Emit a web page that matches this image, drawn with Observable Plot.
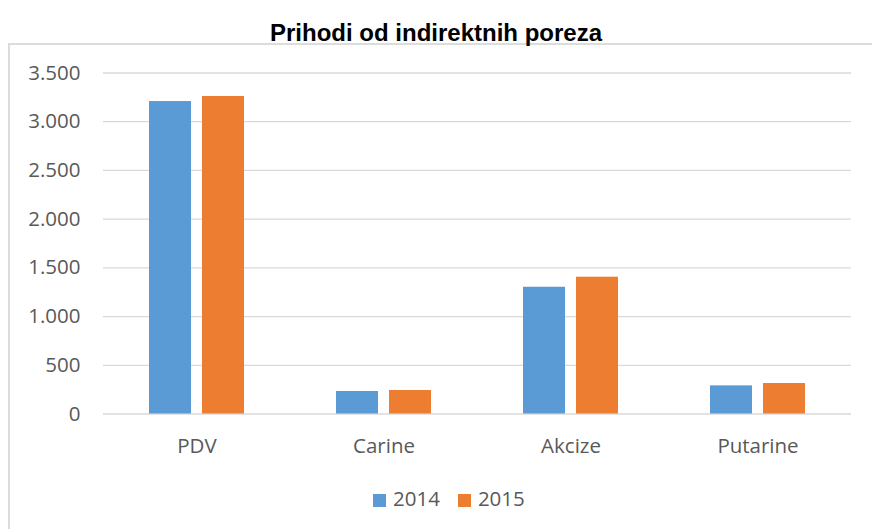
<!DOCTYPE html>
<html>
<head>
<meta charset="utf-8">
<script src="https://cdn.jsdelivr.net/npm/d3@7"></script>
<script src="https://cdn.jsdelivr.net/npm/@observablehq/plot@0.6"></script>
<style>
  html, body { margin: 0; padding: 0; background: #fff; }
  #wrap { position: relative; width: 872px; height: 529px; overflow: hidden; }
  #frame { position: absolute; left: 8px; top: 43px; width: 900px; height: 520px; border: 2px solid #dcdcdc; box-sizing: border-box; }
  #title { position: absolute; left: 0; top: 21px; width: 872px; text-align: center; font-family: "Liberation Sans", Arial, sans-serif; font-weight: bold; font-size: 24px; line-height: 24px; color: #000; }
  .layer { position: absolute; left: 0; top: 0; }
  #legend { position: absolute; left: 373px; top: 488px; display: flex; align-items: center; font-family: "Open Sans", sans-serif; font-size: 20.5px; line-height: 20px; color: #595959; }
  .item { display: flex; align-items: center; margin-right: 18px; }
  .sw { width: 13px; height: 13px; margin-right: 7px; margin-top: 4px; }
</style>
</head>
<body>
<div id="wrap">
  <div id="frame"></div>
  <div id="title"></div>
  <div id="grid" class="layer"></div>
  <div id="bars" class="layer"></div>
  <div id="legend"></div>
</div>
<script>
const titleText = "Prihodi od indirektnih poreza";
const categories = ["PDV", "Carine", "Akcize", "Putarine"];
const years = ["2014", "2015"];
const values2014 = [3207, 231, 1301, 289];
const values2015 = [3259, 241, 1404, 313];
const colors = ["#5B9BD5", "#ED7D31"];
const yTicks = [0, 500, 1000, 1500, 2000, 2500, 3000, 3500];

const table = [];
categories.forEach((c, i) => {
  table.push({category: c, year: years[0], value: values2014[i]});
  table.push({category: c, year: years[1], value: values2015[i]});
});

const fmt = d3.formatLocale({decimal: ",", thousands: ".", grouping: [3], currency: ["", ""]}).format(",");

document.getElementById("title").textContent = titleText;

const common = {
  width: 872,
  height: 470,
  marginLeft: 103,
  marginRight: 21,
  marginTop: 72.5,
  marginBottom: 56.5,
  style: {fontFamily: "'Open Sans', sans-serif", fontSize: "20.5px", color: "#595959", background: "transparent"}
};

const gridPlot = Plot.plot({
  ...common,
  y: {domain: [0, 3500], label: null},
  marks: [
    Plot.gridY(yTicks, {stroke: "#d9d9d9", strokeOpacity: 1, strokeWidth: 1.3}),
    Plot.axisY(yTicks, {tickSize: 0, tickPadding: 23, tickFormat: fmt, fill: "#595959", fontSize: 20.5, label: null})
  ]
});
document.getElementById("grid").appendChild(gridPlot);

const barPlot = Plot.plot({
  ...common,
  fx: {domain: categories, paddingInner: 0.492, paddingOuter: 0.246, round: false, label: null},
  x: {domain: years, paddingInner: 0.2075, paddingOuter: 0, round: false, axis: null},
  y: {domain: [0, 3500], label: null, axis: null},
  color: {domain: years, range: colors},
  marks: [
    Plot.axisFx({anchor: "bottom", tickSize: 0, tickPadding: 24, fill: "#595959", fontSize: 20.5, label: null}),
    Plot.barY(table, {fx: "category", x: "year", y: "value", fill: "year"})
  ]
});
document.getElementById("bars").appendChild(barPlot);

const legend = document.getElementById("legend");
years.forEach((y, i) => {
  const item = document.createElement("div");
  item.className = "item";
  const sw = document.createElement("div");
  sw.className = "sw";
  sw.style.background = colors[i];
  const t = document.createElement("span");
  t.textContent = y;
  item.appendChild(sw);
  item.appendChild(t);
  legend.appendChild(item);
});
</script>
</body>
</html>
